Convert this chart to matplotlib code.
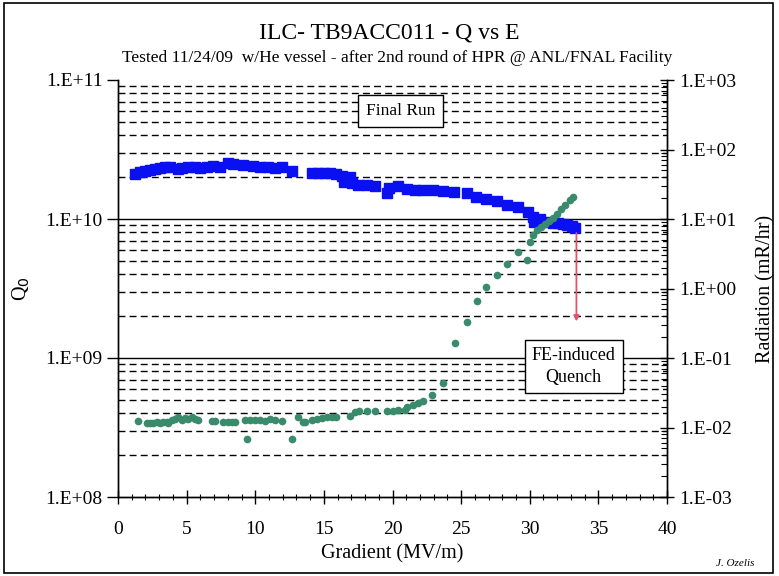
import matplotlib
matplotlib.use("Agg")
import matplotlib.pyplot as plt
from matplotlib.ticker import LogLocator, NullFormatter, FixedLocator
from matplotlib.patches import Rectangle

plt.rcParams['font.family'] = ['Liberation Serif', 'DejaVu Serif']

# Q0 vs gradient (blue squares, left axis)
q_grad = [1.24, 1.60, 1.97, 2.33, 2.70, 3.06, 3.42, 3.79, 4.37, 4.66, 5.10, 5.61, 5.97,
          6.48, 6.92, 7.43, 8.01, 8.38, 9.11, 9.84, 10.35, 10.93, 11.44, 11.95, 12.68,
          14.13, 14.57, 15.01, 15.45, 15.88, 16.32, 16.47, 16.90, 17.05, 17.49, 18.14,
          18.72, 19.60, 19.74, 20.40, 21.06, 21.64, 22.22, 22.95, 23.68, 24.48, 25.43,
          26.08, 26.81, 27.61, 28.34, 29.14, 29.87, 30.24, 30.31, 30.75, 31.26, 31.69,
          32.06, 32.42, 32.71, 33.08, 33.30]
q_vals = [2.11e10, 2.18e10, 2.22e10, 2.25e10, 2.29e10, 2.33e10, 2.37e10, 2.37e10, 2.29e10,
          2.33e10, 2.37e10, 2.37e10, 2.33e10, 2.37e10, 2.41e10, 2.37e10, 2.53e10, 2.49e10,
          2.45e10, 2.41e10, 2.37e10, 2.37e10, 2.33e10, 2.37e10, 2.22e10,
          2.14e10, 2.14e10, 2.14e10, 2.14e10, 2.11e10, 2.04e10, 1.85e10, 2.01e10, 1.82e10,
          1.76e10, 1.76e10, 1.73e10, 1.54e10, 1.67e10, 1.73e10, 1.64e10, 1.62e10, 1.62e10,
          1.62e10, 1.59e10, 1.56e10, 1.54e10, 1.44e10, 1.39e10, 1.35e10, 1.26e10, 1.22e10,
          1.12e10, 1.03e10, 9.5e9, 1.0e10, 9.5e9, 9.35e9, 9.35e9, 9.2e9, 9.05e9, 8.9e9, 8.6e9]

# Radiation vs gradient (green circles, right axis)
r_grad = [1.46, 2.11, 2.33, 2.55, 2.84, 3.06, 3.28, 3.57, 3.64, 3.93, 4.15, 4.37, 4.66,
          4.88, 5.10, 5.39, 5.61, 5.83, 6.85, 7.07, 7.65, 8.01, 8.31, 8.52, 9.25, 9.40,
          9.62, 9.98, 10.35, 10.71, 11.07, 11.44, 11.95, 12.68, 13.11, 13.48, 13.62,
          14.13, 14.50, 14.86, 15.23, 15.59, 15.88, 16.90, 17.27, 17.56, 18.14, 18.72,
          19.60, 20.04, 20.40, 20.91, 21.06, 21.49, 21.86, 22.22, 22.88, 23.68, 24.55,
          25.43, 26.16, 26.81, 27.61, 28.34, 29.14, 29.80, 30.02, 30.24, 30.53, 30.82,
          31.11, 31.40, 31.69, 31.99, 32.28, 32.57, 32.93, 33.15]
r_vals = [0.0124, 0.0116, 0.0116, 0.0116, 0.0120, 0.0116, 0.0120, 0.0120, 0.0116, 0.0128,
          0.0132, 0.0142, 0.0128, 0.0137, 0.0132, 0.0142, 0.0132, 0.0128, 0.0124, 0.0124,
          0.0120, 0.0120, 0.0120, 0.0120, 0.0128, 0.00684, 0.0128, 0.0128, 0.0128, 0.0124,
          0.0132, 0.0128, 0.0124, 0.00684, 0.0142, 0.0120, 0.0120, 0.0128, 0.0132, 0.0137,
          0.0142, 0.0142, 0.0142, 0.0146, 0.0167, 0.0173, 0.0173, 0.0173, 0.0173, 0.0173,
          0.0179, 0.0179, 0.0197, 0.0211, 0.0225, 0.0241, 0.0294, 0.0437, 0.164, 0.330,
          0.661, 1.05, 1.56, 2.25, 3.35, 2.57, 4.67, 5.89, 6.95, 7.67, 8.48, 9.36, 10.3,
          11.8, 13.9, 15.9, 18.8, 20.7]

# quench arrow
quench_grad = 33.4
quench_from = 8.3e9
quench_to = 1.75e9

title = "ILC- TB9ACC011 - Q vs E"
subtitle = "Tested 11/24/09  w/He vessel - after 2nd round of HPR @ ANL/FNAL Facility"
left_ticks = [1e8, 1e9, 1e10, 1e11]
left_labels = ["1.E+08", "1.E+09", "1.E+10", "1.E+11"]
right_ticks = [1e-3, 1e-2, 1e-1, 1e0, 1e1, 1e2, 1e3]
right_labels = ["1.E-03", "1.E-02", "1.E-01", "1.E+00", "1.E+01", "1.E+02", "1.E+03"]

fig = plt.figure(figsize=(7.79, 5.76), dpi=100)
ax = fig.add_axes([118/779, 1-497/576, (667-118)/779, (497-80)/576])
ax2 = ax.twinx()

ax.set_yscale('log')
ax.set_ylim(1e8, 1e11)
ax.set_xlim(0, 40)
ax2.set_yscale('log')
ax2.set_ylim(1e-3, 1e3)

# grid
for d in [1e8, 1e9, 1e10]:
    for m in range(2, 10):
        ax.axhline(d*m, color='black', lw=1.0, ls=(0, (5, 3)), zorder=0)
for d in [1e9, 1e10]:
    ax.axhline(d, color='black', lw=1.0, zorder=0)

ax.plot(q_grad, q_vals, ls='none', marker='s', ms=6.5, color='#0a10f0', zorder=3)
ax2.plot(r_grad, r_vals, ls='none', marker='o', ms=4.5, color='#3a8a6c', zorder=3)
ax2.set_zorder(ax.get_zorder()+1)
ax2.patch.set_visible(False)

ax.annotate('', xy=(quench_grad, quench_to), xytext=(quench_grad, quench_from),
            arrowprops=dict(arrowstyle='-|>', color='#e8506a', lw=1.3, mutation_scale=8),
            zorder=4)

ax.text(20.6, 6.0e10, "Final Run", ha='center', va='center', fontsize=12.5,
        bbox=dict(boxstyle='square,pad=0.45', fc='white', ec='black', lw=1.0), zorder=5)
ax.text(33.2, 8.7e8, "FE-induced\nQuench", ha='center', va='center', fontsize=13,
        linespacing=1.4,
        bbox=dict(boxstyle='square,pad=0.4', fc='white', ec='black', lw=1.0), zorder=5)

ax.yaxis.set_major_locator(FixedLocator(left_ticks))
ax.set_yticklabels(left_labels)
ax.yaxis.set_minor_locator(FixedLocator([]))
ax.tick_params(axis='y', which='major', direction='out', length=8, width=1, labelsize=14, pad=3)

ax2.yaxis.set_major_locator(FixedLocator(right_ticks))
ax2.set_yticklabels(right_labels)
ax2.yaxis.set_minor_locator(LogLocator(base=10, subs=range(2, 10)))
ax2.yaxis.set_minor_formatter(NullFormatter())
ax2.tick_params(axis='y', which='major', direction='inout', length=10, width=1, labelsize=14, pad=4)
ax2.tick_params(axis='y', which='minor', direction='in', length=4, width=0.8)

ax.set_xticks(range(0, 41, 5))
ax.set_xticks(range(0, 41, 1), minor=True)
ax.tick_params(axis='x', which='major', direction='inout', length=10, width=1, labelsize=14, pad=12)
ax.tick_params(axis='x', which='minor', direction='inout', length=5, width=0.8)

for a in (ax, ax2):
    for s in a.spines.values():
        s.set_linewidth(1.0)
ax.spines['top'].set_visible(False)
ax2.spines['top'].set_visible(False)

ax.set_xlabel("Gradient (MV/m)", fontsize=14.5, labelpad=5)
ax.set_ylabel("Q$_0$", fontsize=14.5, labelpad=10)
ax2.set_ylabel("Radiation (mR/hr)", fontsize=14.5, labelpad=14)

fig.text(0.5, 1-33/576, title, ha='center', va='center', fontsize=17)
fig.text(0.51, 1-58/576, subtitle, ha='center', va='center', fontsize=12.5)
fig.text(735/779, 1-563/576, "J. Ozelis", ha='center', va='center', fontsize=8, style='italic')

fig.patches.append(Rectangle((4/779, 3/576), 769/779, 570/576, transform=fig.transFigure,
                             fill=False, ec='black', lw=1.2))

fig.savefig("out.png", dpi=100)
